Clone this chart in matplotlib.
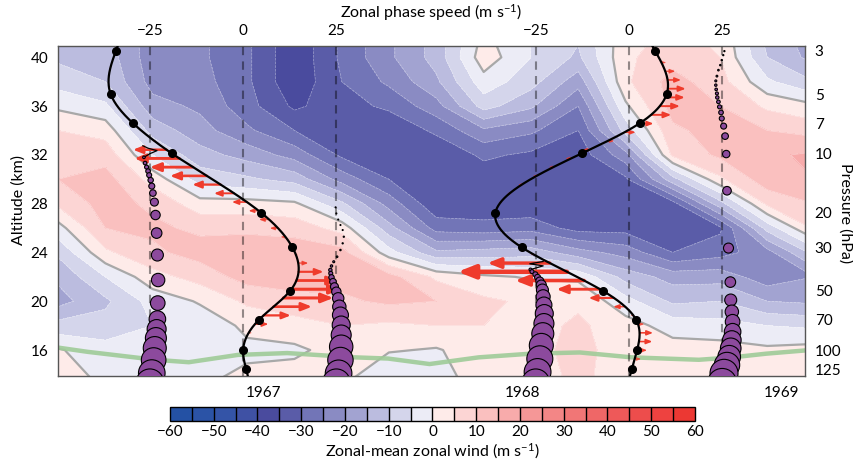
import numpy as np
import matplotlib
matplotlib.use('Agg')
import matplotlib.pyplot as plt

plt.rcParams['font.family'] = ['Lato', 'DejaVu Sans']
plt.rcParams['mathtext.default'] = 'regular'

# ---- background zonal-mean zonal wind (time x altitude) ----
years = [1966.205, 1966.388, 1966.570, 1966.753, 1966.935, 1967.118, 1967.301,
         1967.483, 1967.666, 1967.849, 1968.031, 1968.214, 1968.397, 1968.579,
         1968.762, 1968.944, 1969.127]
heights = [13.8, 16, 18, 20, 22, 24, 26, 28, 30, 32, 34, 36, 38, 40, 42]
# one list per time column, bottom to top (m/s)
wind_cols = [
    [2, 0.5, -8, -17, -14, -9, -2, 6, 10, 9, 5, -1, -7, -11, -12],
    [-1, -3, -8, -11, -5, 4, 10, 12, 12, 8, 3, -4, -10, -12, -13],
    [-2, -3, -5, -3, 3, 9, 11, 9, 3, -5, -12, -18, -22, -23, -23],
    [-1, -2, -3, 0.5, 7, 12, 9, 2, -7, -13, -18, -21, -23, -24, -24],
    [1, -1, 1, 6, 12, 13, 9, 2, -9, -17, -24, -28, -29, -29, -29],
    [2, -1, 3, 8, 13, 13, 8, 1, -12, -22, -30, -36, -39, -39, -39],
    [2, 2, 5, 9, 12, 12, 3, -9, -22, -31, -33, -32, -30, -29, -29],
    [-5, 0.5, 4, 11, 12, -3, -13, -22, -30, -34, -34, -29, -24, -21, -21],
    [-4, -0.5, 5, 10, 4, -14, -27, -34, -34, -34, -29, -22, -16, -13, -13],
    [5, 3, 5, 6, 1, -13, -28, -34, -33, -29, -21, -8, -2, 3, 1],
    [3, 3, 3, 4, -0.5, -12, -27, -34, -34, -31, -24, -14, -8, -5, -5],
    [6, 7, 6, 4, -1, -18, -32, -34, -34, -33, -30, -25, -18, -11, -9],
    [3, 2, 2, -3, -12, -22, -32, -34, -31, -22, -8, -1, 4, 4, 3],
    [3, 2, -2, -11, -17, -30, -34, -32, -12, 6, 9, 12, 12, 8, 6],
    [2, 2, -3, -10, -17, -27, -31, -12, 4, 11, 12, 10, 7, 5, 4],
    [2, 1, -5, -15, -23, -22, -8, 6, 13, 14, 10, 4, -4, -10, -12],
    [1, 2, -6, -16, -20, -8, 6, 10, 15, 16, 8, 1, -10, -17, -18],
]
levels = np.arange(-60, 61, 5)
colors = ['#2451a4', '#2b53a6', '#3454a7', '#3f51a4', '#4a4b9e', '#5a5ca8',
          '#7275b7', '#8a8bc3', '#a2a3d1', '#bbbcdf', '#d4d5eb', '#ececf6',
          '#feebe9', '#fcd5d4', '#fac0bf', '#f8abab', '#f59797', '#f38686',
          '#f17676', '#ef6767', '#ee5959', '#ed4d4c', '#ee4240', '#ec3833']

# tropopause
trop_years = [1966.205, 1966.32, 1966.58, 1966.71, 1966.90, 1967.09, 1967.35,
              1967.48, 1967.64, 1967.83, 1968.03, 1968.22, 1968.42, 1968.68,
              1968.81, 1968.94, 1969.11]
trop_z = [16.2, 15.85, 15.2, 15.0, 15.6, 15.75, 15.4, 15.3, 14.85, 15.4, 15.7,
          15.8, 15.4, 15.2, 15.4, 15.7, 16.0]

# ---- wind profiles at two dates (phase-speed units) ----
p_levels = [125, 100, 70, 50, 30, 20, 10, 7, 5, 3]
profile_dates = [1966.92, 1968.41]
u_1967 = [0.8, 0.0, 4.3, 12.6, 13.2, 4.8, -19.1, -29.6, -35.5, -34.1]
u_1968 = [0.8, 2.2, 1.9, -7.0, -28.8, -35.8, -12.7, 3.0, 10.1, 7.0]

# wave forcing arrows (m/s per unit, sign = direction)
arrow_z = 14.55 + 0.715 * np.arange(37)
force_1967 = [0, 0, 0, 0.3, 0.9, 3.6, 7.3, 10.3, 13.4, 13.4, 11.2, 6.7, 2.7, 0.6,
              -0.8, -1.3, -2.2, -2.7, -2.7, -4.0, -5.4, -7.6, -9.9, -11.6, -12.1,
              -9.0, -0.5, 0, 0, 0, 0, 0, 0, 0, 0, 0, 0]
force_1968 = [0.5, 1.7, 2.7, 3.6, 3.6, 1.7, -0.8, -3.2, -6.8, -11.7, -18.5, -29.3,
              -16.7, -0.8, -0.3, -0.3, -0.3, -0.3, -0.4, -0.5, -0.7, -1.0, -1.0,
              -1.2, -1.5, -1.8, 1.8, 3.0, 3.8, 5.4, 5.4, 5.2, 4.8, 3.6, 2.7, 1.3, 0.5]

# gravity-wave packets: altitude, phase speed, amplitude (circle radius)
ray_a_z = [13.3, 14.11, 15.18, 16.16, 16.98, 17.72, 18.54, 19.85, 21.74, 23.79,
           25.59, 27.07, 28.13, 28.87, 29.44, 29.93, 30.34, 30.67, 31.0, 31.33, 31.8]
ray_a_c = [-25.0, -24.5, -24.0, -23.7, -23.4, -23.2, -23.0, -22.9, -22.8, -23.0,
           -23.2, -23.5, -23.8, -24.2, -24.5, -24.8, -25.2, -25.5, -25.9, -26.3, -26.6]
ray_a_r = [14, 13.3, 12.3, 11.5, 10.5, 9.5, 8.3, 7.3, 6.7, 6.0, 5.3, 4.7, 4.0, 3.3,
           3.0, 2.7, 2.5, 2.3, 2.0, 1.8, 1.3]
hook_a_z = [31.8, 32.1, 32.35, 32.55, 32.75]
hook_a_c = [-26.6, -25.0, -23.1, -25.5, -26.9]

ray_b_z = [13.3, 14.09, 15.18, 16.27, 17.23, 18.05, 18.87, 19.55, 20.24, 20.78,
           21.19, 21.6, 21.96, 22.29, 22.56, 22.89, 23.24, 23.65, 24.2, 24.75,
           25.29, 25.84, 26.25, 26.7, 27.2, 27.7]
ray_b_c = [25.0, 25.6, 26.1, 26.3, 26.3, 26.3, 26.1, 25.8, 25.5, 25.0, 24.5, 24.1,
           23.7, 23.5, 23.4, 23.7, 24.3, 25.2, 26.1, 26.7, 27.0, 26.7, 26.1, 25.5,
           25.0, 24.8]
ray_b_r = [14, 13.3, 12.7, 11.7, 10, 9, 8, 6.7, 5.7, 4.7, 4, 3.3, 2.7, 2, 1.7, 1.2,
           1.0, 0.8, 0.7, 0.6, 0.6, 0.5, 0.5, 0.5, 0.5, 0.5]

ray_c_z = [13.3, 14.2, 15.28, 16.38, 17.34, 18.17, 18.99, 19.69, 20.37, 20.92,
           21.33, 21.66, 21.96, 22.21, 22.43, 22.6]
ray_c_c = [-25.0, -24.5, -23.9, -23.5, -23.1, -22.8, -22.7, -22.8, -23.0, -23.2,
           -23.5, -23.9, -24.5, -25.1, -26.0, -26.4]
ray_c_r = [14, 13.4, 13, 12, 11, 10, 9, 8, 7, 6, 5, 4, 3, 2.5, 2, 1.5]
hook_c_z = [22.6, 22.9, 23.07, 23.26]
hook_c_c = [-26.4, -23.0, -26.6, -23.0]

ray_d_z = [13.3, 14.09, 14.77, 15.45, 16.14, 16.82, 17.5, 18.32, 19.14, 20.1, 21.57,
           24.36, 29.06, 32.07, 33.54, 34.36, 34.99, 35.48, 35.94, 36.35, 36.71,
           37.04, 37.37, 37.72, 38.07, 38.46, 38.95, 39.36, 39.77, 40.18, 40.51]
ray_d_c = [25.0, 25.5, 26.3, 26.9, 27.3, 27.6, 27.8, 27.8, 27.6, 27.3, 27.2, 26.7,
           26.3, 26.1, 25.8, 25.4, 24.9, 24.7, 24.3, 24.0, 23.7, 23.6, 23.4, 23.3,
           23.3, 23.6, 24.0, 24.5, 24.9, 25.3, 25.6]
ray_d_r = [14.5, 14, 12.7, 11.3, 10.3, 9.3, 8.3, 7.3, 6.7, 6, 5.3, 5, 4.3, 3.7, 3.3,
           3, 2.5, 2.3, 2, 1.8, 1.7, 1.5, 1.3, 1.2, 1, 0.9, 0.8, 0.7, 0.7, 0.6, 0.6]

p_ticks = [3, 5, 7, 10, 20, 30, 50, 70, 100, 125]


def p2z(p):
    return 16 + 7.0 * np.log(100.0 / np.asarray(p, float))


def nat_spline(x, y, xn):
    x = np.asarray(x, float); y = np.asarray(y, float)
    n = len(x); h = np.diff(x)
    A = np.zeros((n, n)); b = np.zeros(n)
    A[0, 0] = A[-1, -1] = 1
    for i in range(1, n - 1):
        A[i, i - 1] = h[i - 1]; A[i, i] = 2 * (h[i - 1] + h[i]); A[i, i + 1] = h[i]
        b[i] = 3 * ((y[i + 1] - y[i]) / h[i] - (y[i] - y[i - 1]) / h[i - 1])
    c = np.linalg.solve(A, b)
    bb = (y[1:] - y[:-1]) / h - h * (2 * c[:-1] + c[1:]) / 3
    d = (c[1:] - c[:-1]) / (3 * h)
    xn = np.asarray(xn, float)
    i = np.clip(np.searchsorted(x, xn) - 1, 0, n - 2)
    dx = xn - x[i]
    return y[i] + bb[i] * dx + c[i] * dx ** 2 + d[i] * dx ** 3


T0, T1 = 1966.205, 1969.09
Z0, Z1 = 13.87, 40.93
YR_PER_MS = 0.0144
W, H = 854, 461
pos = [58 / W, 1 - 376 / H, (805 - 58) / W, (376 - 46) / H]

fig = plt.figure(figsize=(W / 100, H / 100), dpi=100)
ax = fig.add_axes(pos)
U = np.array(wind_cols, float).T
cf = ax.contourf(years, heights, U, levels=levels, colors=colors)
ax.contour(years, heights, U, levels=[l for l in levels if l != 0],
           colors='white', linewidths=0.5, alpha=0.4)
ax.contour(years, heights, U, levels=[0], colors='#a8a8a8', linewidths=1.6)
ax.plot(trop_years, trop_z, color='#9fcb98', lw=3.2, alpha=0.9)
ax.set_xlim(T0, T1)
ax.set_ylim(Z0, Z1)
ax.set_yticks(range(16, 41, 4))
ax.set_xticks([1967, 1968, 1969])
ax.set_xticklabels(['1967', '1968', '1969'])
ax.tick_params(length=0, labelsize=11)
ax.tick_params(axis='y', pad=7)
ax.tick_params(axis='x', pad=7)
for s in ax.spines.values():
    s.set_color('#555555'); s.set_linewidth(1)

axr = ax.twinx()
axr.set_ylim(Z0, Z1)
axr.set_yticks(p2z(p_ticks))
axr.set_yticklabels([str(p) for p in p_ticks])
axr.tick_params(length=0, pad=7, labelsize=11)
for s in axr.spines.values():
    s.set_visible(False)

panels = [
    (profile_dates[0], u_1967, force_1967,
     [(ray_a_z, ray_a_c, ray_a_r), (ray_b_z, ray_b_c, ray_b_r)], [(hook_a_z, hook_a_c)]),
    (profile_dates[1], u_1968, force_1968,
     [(ray_c_z, ray_c_c, ray_c_r), (ray_d_z, ray_d_c, ray_d_r)], [(hook_c_z, hook_c_c)]),
]
zp = p2z(p_levels)
for date, u, force, rays, hooks in panels:
    ov = fig.add_axes(pos, facecolor='none')
    ov.set_xlim((T0 - date) / YR_PER_MS, (T1 - date) / YR_PER_MS)
    ov.set_ylim(Z0, Z1)
    for c in (-25, 0, 25):
        ov.axvline(c, color='k', alpha=0.42, lw=1.5, ls=(0, (4, 3)), zorder=1)
    for z, f in zip(arrow_z, force):
        if abs(f) < 0.25:
            continue
        x0 = float(nat_spline(zp, u, z))
        s = np.sqrt(abs(f))
        ov.annotate('', xy=(x0 + f, z), xytext=(x0, z),
                    arrowprops=dict(arrowstyle=f'-|>,head_length={1.9 * s:.2f},head_width={0.75 * s:.2f}',
                                    mutation_scale=1, lw=0.6 * s, color='#ef3b2c',
                                    alpha=min(1.0, 0.3 + 0.2 * abs(f)),
                                    shrinkA=0, shrinkB=0), zorder=2)
    for hz, hc in hooks:
        ov.plot(hc, hz, color='k', lw=0.9, zorder=3)
    for rz, rc, rr in rays:
        rr = np.array(rr[::-1])
        ov.scatter(rc[::-1], rz[::-1], s=(1.44 * rr) ** 2, c='#8c4a9d',
                   edgecolors='k', linewidths=0.8, zorder=3)
    zz = np.linspace(Z0, Z1, 400)
    ov.plot(nat_spline(zp, u, zz), zz, color='k', lw=1.6, zorder=4)
    ov.plot(u, zp, 'o', color='k', ms=5.5, zorder=5)
    ov.xaxis.set_ticks_position('top')
    ov.set_xticks([-25, 0, 25])
    ov.tick_params(axis='x', length=0, pad=6, labelsize=11)
    ov.set_yticks([])
    for sp in ov.spines.values():
        sp.set_visible(False)

fig.text(0.505, 0.973, 'Zonal phase speed (m s$^{-1}$)', ha='center', va='center', fontsize=11.5)
fig.text(19 / W, 1 - 200 / H, 'Altitude (km)', ha='center', va='center', rotation=90, fontsize=11.5)
fig.text(845 / W, 1 - 213 / H, 'Pressure (hPa)', ha='center', va='center', rotation=270, fontsize=11.5)

cax = fig.add_axes([170 / W, 1 - 421 / H, 525 / W, 14 / H])
cb = fig.colorbar(cf, cax=cax, orientation='horizontal', drawedges=True,
                  ticks=range(-60, 61, 10))
cb.outline.set_linewidth(1)
cb.dividers.set_color('k')
cb.dividers.set_linewidth(1)
cax.tick_params(length=0, pad=3, labelsize=11)
cb.set_label('Zonal-mean zonal wind (m s$^{-1}$)', fontsize=11.5, labelpad=2)

fig.savefig('out.png', dpi=100)
